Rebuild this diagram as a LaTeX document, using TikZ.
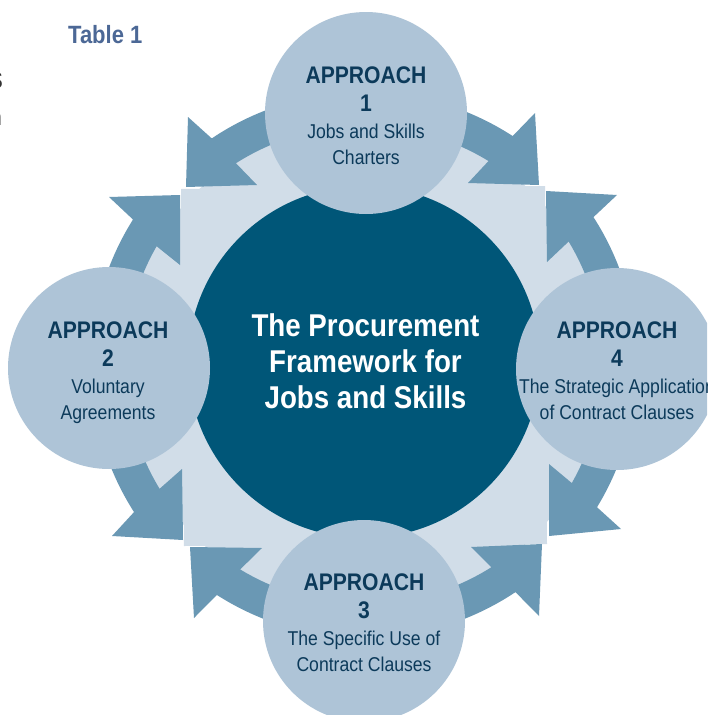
\documentclass[tikz,border=0pt]{standalone}
\usepackage{fontspec}
\setmainfont[FakeStretch=0.88]{Liberation Sans}
\usetikzlibrary{calc}
\definecolor{coreblue}{RGB}{0,86,120}
\definecolor{apfill}{RGB}{174,196,215}
\definecolor{arrowblue}{RGB}{106,152,180}
\definecolor{lightring}{RGB}{209,221,232}
\definecolor{aptext}{RGB}{12,58,90}
\definecolor{tabletext}{RGB}{76,104,150}
\tikzset{
  aphead/.style={font=\fontsize{24}{28}\selectfont\bfseries, text=aptext, inner sep=0pt, anchor=base},
  aptxt/.style={font=\fontsize{20}{24}\selectfont, text=aptext, inner sep=0pt, anchor=base},
  apcirc/.style={circle, fill=apfill, minimum size=202pt, inner sep=0pt},
  arr/.style={fill=arrowblue},
  lightfill/.style={fill=lightring},
  coretxt/.style={font=\fontsize{31.5}{36}\selectfont\bfseries, text=white, inner sep=0pt, anchor=base},
  frag/.style={font=\fontsize{23}{27}\selectfont, text=black!80, inner sep=0pt, anchor=base east},
}
\begin{document}
\begin{tikzpicture}[x=1pt,y=-1pt]
\useasboundingbox (0,0) rectangle (707,715);
\clip (0,0) rectangle (707,715);
\fill[white] (0,0) rectangle (707,715);

% title and clipped fragments
\node[font=\fontsize{25}{30}\selectfont\bfseries, text=tabletext, inner sep=0pt, anchor=base west] (table) at (68,43) {Table 1};
\node[frag] (fragS) at (3,88) {S};
\node[frag] (fragN) at (2,125) {n};

\coordinate (C) at (364,365);

% light background
\fill[lightfill] (C) circle[radius=241];
\fill[lightfill] (181,189) -- (545,186) -- (547,544) -- (184,546) -- cycle;

% arrows
\fill[arr] ($(C)+(-90:273)$) arc[start angle=-90, end angle=-123.9, radius=273] -- (188,117) -- (186,187) -- (257,185) -- ($(C)+(-122.4:239)$) arc[start angle=-122.4, end angle=-90, radius=239] -- cycle;
\fill[arr] ($(C)+(-180:273)$) arc[start angle=-180, end angle=-147.8, radius=273] -- (109,197) -- (180,195) -- (180,265) -- ($(C)+(-150.2:239)$) arc[start angle=-150.2, end angle=-180, radius=239] -- cycle;
\fill[arr] ($(C)+(-90:273)$) arc[start angle=-90, end angle=-57, radius=273] -- (535,113) -- (539,185) -- (468,183) -- ($(C)+(-58.6:239)$) arc[start angle=-58.6, end angle=-90, radius=239] -- cycle;
\fill[arr] ($(C)+(0:273)$) arc[start angle=0, end angle=-32.8, radius=273] -- (617,195) -- (546,191) -- (547,262) -- ($(C)+(-31.1:239)$) arc[start angle=-31.1, end angle=0, radius=239] -- cycle;
\fill[arr] ($(C)+(180:273)$) arc[start angle=180, end angle=147.4, radius=273] -- (112,536) -- (183,540) -- (182,469) -- ($(C)+(148.8:239)$) arc[start angle=148.8, end angle=180, radius=239] -- cycle;
\fill[arr] ($(C)+(90:273)$) arc[start angle=90, end angle=122.6, radius=273] -- (194,618) -- (190,547) -- (262,548) -- ($(C)+(121.2:239)$) arc[start angle=121.2, end angle=90, radius=239] -- cycle;
\fill[arr] ($(C)+(0:273)$) arc[start angle=0, end angle=31.4, radius=273] -- (621,529) -- (549,536) -- (549,464) -- ($(C)+(29.6:239)$) arc[start angle=29.6, end angle=0, radius=239] -- cycle;
\fill[arr] ($(C)+(90:273)$) arc[start angle=90, end angle=56.3, radius=273] -- (539,616) -- (542,544) -- (471,547) -- ($(C)+(57.8:239)$) arc[start angle=57.8, end angle=90, radius=239] -- cycle;

% core
\node[circle, fill=coreblue, minimum size=352pt, inner sep=0pt] (core) at (364,362) {};
\node[coretxt] (core1) at (365.5,336.7) {The Procurement};
\node[coretxt] (core2) at (365.5,372.7) {Framework for};
\node[coretxt] (core3) at (365.5,408.3) {Jobs and Skills};

% approach circles
\node[apcirc] (a1) at (366,113) {};
\node[apcirc] (a2) at (109,368) {};
\node[apcirc] (a3) at (364,621) {};
\node[apcirc] (a4) at (617,369) {};

% approach 1
\node[aphead] (a1h) at (366,83) {APPROACH};
\node[aphead] (a1n) at (366,111) {1};
\node[aptxt] (a1a) at (366,138.5) {Jobs and Skills};
\node[aptxt] (a1b) at (366,164) {Charters};
% approach 2
\node[aphead] (a2h) at (108,338) {APPROACH};
\node[aphead] (a2n) at (108,366) {2};
\node[aptxt] (a2a) at (108,393.5) {Voluntary};
\node[aptxt] (a2b) at (108,419) {Agreements};
% approach 3
\node[aphead] (a3h) at (364,590) {APPROACH};
\node[aphead] (a3n) at (364,618) {3};
\node[aptxt] (a3a) at (364,645.5) {The Specific Use of};
\node[aptxt] (a3b) at (364,671) {Contract Clauses};
% approach 4
\node[aphead] (a4h) at (617,338) {APPROACH};
\node[aphead] (a4n) at (617,366) {4};
\node[aptxt] (a4a) at (617,393.5) {The Strategic Application};
\node[aptxt] (a4b) at (617,419) {of Contract Clauses};
\end{tikzpicture}
\end{document}
